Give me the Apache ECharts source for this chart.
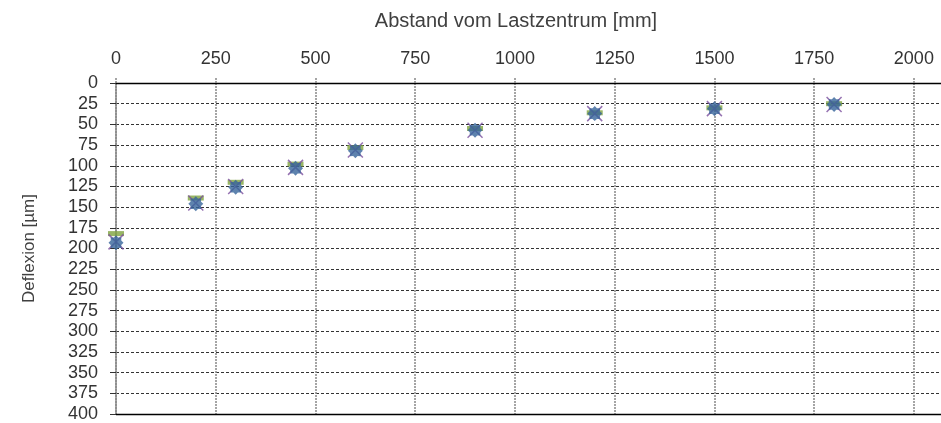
<!DOCTYPE html>
<html>
<head>
<meta charset="utf-8">
<script src="https://cdn.jsdelivr.net/npm/echarts@6/dist/echarts.min.js"></script>
<style>
  html, body { margin: 0; padding: 0; background: #fff; }
  #chart { width: 941px; height: 423px; }
</style>
</head>
<body>
<div id="chart"></div>
<script>
// Distance from the load centre [mm]
const distances = [0, 200, 300, 450, 600, 900, 1200, 1500, 1800];
// Deflection readings [µm]
const deflectionA = [182, 139, 120, 98, 78, 55, 36, 30, 25];
const deflectionB = [192, 145, 125, 102, 81, 57, 37, 31, 26];
const deflectionC = [193, 146, 126, 103, 82, 57, 37, 31, 26];

const xTicks = { min: 0, max: 2068, interval: 250 };
const yTicks = { min: 0, max: 400, interval: 25 };

const font = '"Liberation Sans", Arial, sans-serif';

function pairs(ys) {
  return distances.map((d, i) => [d, ys[i]]);
}

// Filled eight-pointed burst used for the blue marker
function burstPath(points, rOut, rIn) {
  let p = '';
  for (let i = 0; i < points * 2; i++) {
    const r = i % 2 === 0 ? rOut : rIn;
    const a = Math.PI * i / points - Math.PI / 2;
    const x = (50 + r * Math.cos(a)).toFixed(2);
    const y = (50 + r * Math.sin(a)).toFixed(2);
    p += (i === 0 ? 'M' : 'L') + x + ',' + y;
  }
  return 'path://' + p + 'Z';
}

const chart = echarts.init(document.getElementById('chart'));
chart.setOption({
  animation: false,
  backgroundColor: '#ffffff',
  title: {
    text: 'Abstand vom Lastzentrum [mm]',
    left: 511,
    top: 6,
    textAlign: 'center',
    textStyle: { fontFamily: font, fontSize: 20, fontWeight: 'normal', color: '#404040' }
  },
  grid: { left: 116, right: 0, top: 83, bottom: 9, containLabel: false },
  xAxis: {
    type: 'value',
    position: 'top',
    min: xTicks.min,
    max: xTicks.max,
    interval: xTicks.interval,
    axisLine: { show: true, onZero: false, lineStyle: { color: '#000', width: 1.3 } },
    axisTick: { show: true, inside: false, length: 6, lineStyle: { color: '#888', width: 1.5, type: [2, 1] } },
    axisLabel: {
      showMaxLabel: false, margin: 15,
      fontFamily: font, fontSize: 18, color: '#333',
      formatter: v => String(v)
    },
    splitLine: { show: true, showMaxLine: false, lineStyle: { color: '#888', width: 1.5, type: [2, 1] } }
  },
  yAxis: {
    type: 'value',
    inverse: true,
    min: yTicks.min,
    max: yTicks.max,
    interval: yTicks.interval,
    name: 'Deflexion [µm]',
    nameLocation: 'middle',
    nameGap: 78,
    nameRotate: 90,
    nameTextStyle: { fontFamily: font, fontSize: 17, color: '#404040' },
    axisLine: { show: true, onZero: false, lineStyle: { color: '#888', width: 1.5 } },
    axisTick: { show: true, length: 6, lineStyle: { color: '#333', width: 1 } },
    axisLabel: { margin: 18, fontFamily: font, fontSize: 18, color: '#333', formatter: v => String(v) },
    splitLine: { show: true, lineStyle: { color: '#333', width: 1, type: [3, 2] } }
  },
  series: [
    {
      name: 'Deflexion A',
      type: 'scatter',
      data: pairs(deflectionA),
      symbol: 'rect',
      symbolSize: [16, 5],
      itemStyle: { color: '#7ea33f' },
      z: 2,
      markLine: {
        silent: true,
        symbol: 'none',
        label: { show: false },
        lineStyle: { color: '#000', width: 1.3, type: 'solid' },
        data: [{ yAxis: yTicks.max }]
      }
    },
    {
      name: 'Deflexion B',
      type: 'scatter',
      data: pairs(deflectionB),
      symbol: 'path://M0,0L10,10M10,0L0,10',
      symbolSize: 15,
      itemStyle: { color: 'none', borderColor: '#7b4f9d', borderWidth: 1.5 },
      z: 3
    },
    {
      name: 'Deflexion C',
      type: 'scatter',
      data: pairs(deflectionC),
      symbol: burstPath(8, 50, 38),
      symbolSize: 15,
      itemStyle: { color: '#36649a' },
      z: 4
    }
  ]
});
</script>
</body>
</html>
